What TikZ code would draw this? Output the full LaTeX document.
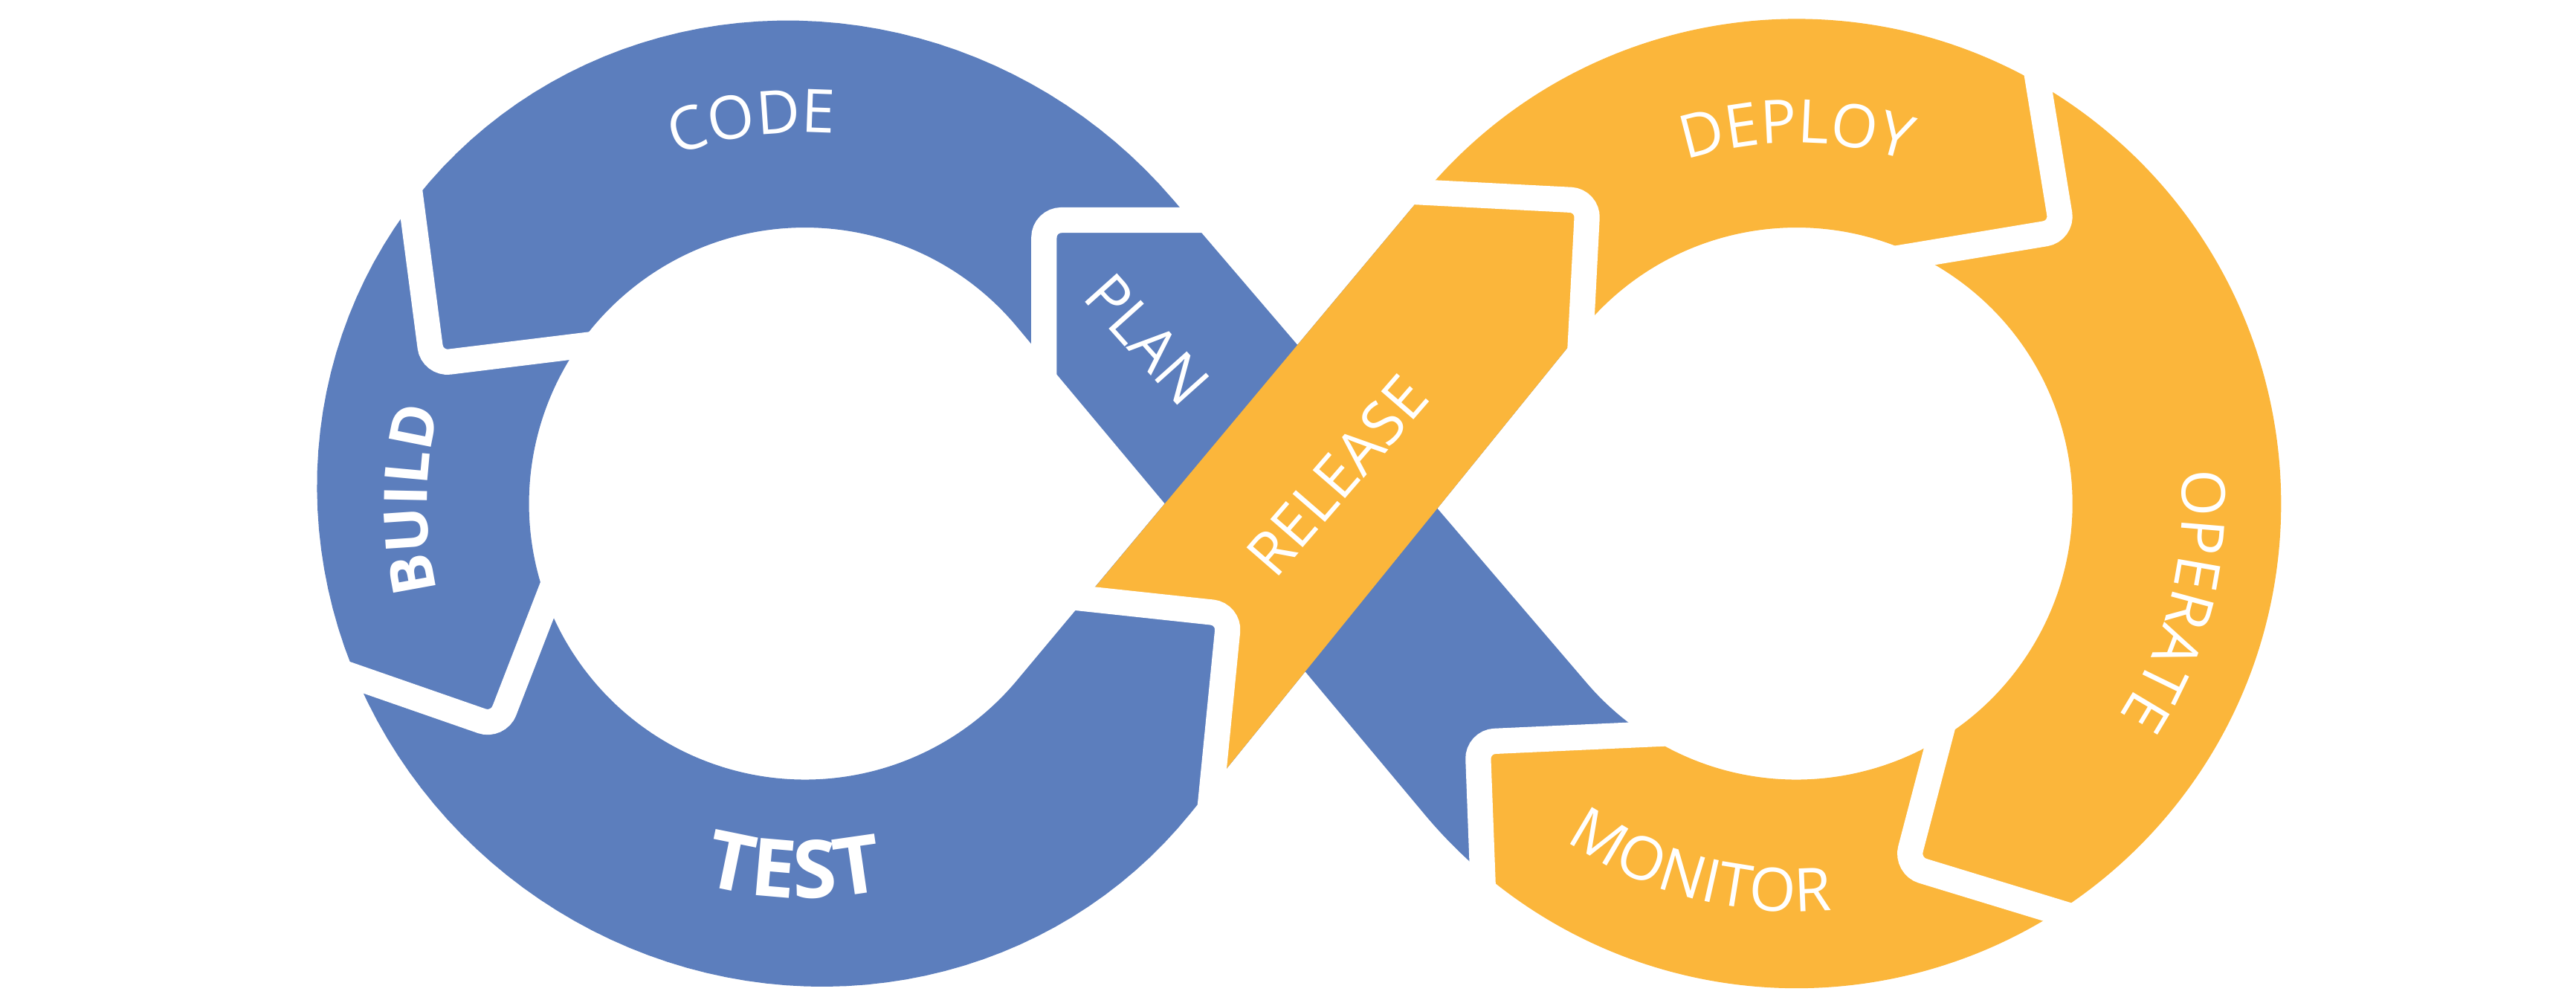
\documentclass[tikz,border=0pt]{standalone}
\usepackage{fontspec}
\setmainfont{Open Sans}
\usetikzlibrary{calc,decorations.text}
\definecolor{dblue}{HTML}{5C7EBD}
\definecolor{dorange}{HTML}{FBB63B}
\newcommand{\lblfont}{\fontsize{10.4}{10.4}\selectfont}
\newcommand{\blblfont}{\fontsize{10.4}{10.4}\selectfont\bfseries}
\newcommand{\testfont}{\fontsize{13.9}{13.9}\selectfont\bfseries}
\begin{document}
\begin{tikzpicture}[x=0.1mm,y=-0.1mm,
  bluepart/.style={fill=dblue},
  orangepart/.style={fill=dorange},
  gapline/.style={draw=white, line width=1.55mm, rounded corners=3pt},
  lbl/.style={text=white, inner sep=0pt, font=\lblfont},
  arclabel/.style={decorate, decoration={text along path, text={#1}, text align=center, text color=white}}]
\useasboundingbox (0,0) rectangle (1568,610.45);
\coordinate (cl) at (490,306.5);
\coordinate (cr) at (1093.5,306.5);

% ---------- blue: left loop, PLAN band, part under RELEASE ----------
\fill[bluepart]
  (713.8,121.2) -- ($(cr)+(139.44:168)$)
  arc[start angle=139.44, end angle=123.3, radius=168]
  -- (899.4,451.6) -- ($(cr)+(130.4:295)$)
  arc[start angle=130.4, end angle=140.1, radius=295]
  -- ($(cl)+(-39.9:168)$)
  arc[start angle=320.1, end angle=39.9, radius=168]
  -- ($(cr)+(219.9:295)$) -- (962.9,200.8) -- (724.4,495.3)
  -- plot[domain=1.93:282.9, samples=120, variable=\t]
     ({490+240.389*cos(\t)-174.526*sin(\t)}, {306.5+181.146*cos(\t)+231.604*sin(\t)})
  -- cycle;

% ---------- orange: right loop and RELEASE band ----------
\fill[orangepart]
  ($(cr)+(219.9:295)$)
  arc[start angle=219.9, end angle=490.4, radius=295]
  -- (899.4,451.6) -- ($(cr)+(123.3:168)$)
  arc[start angle=123.3, end angle=-141, radius=168]
  -- (737.8,478.7) -- (748.2,373.8) -- (660.7,364.4) -- cycle;

% ---------- white gaps between the stages ----------
\draw[gapline] (745,134) -- (635.5,134) -- (635.5,240);        % code / plan
\draw[gapline] (247.3,100) -- (263.2,221.5) -- (370,208.4);    % code / build
\draw[gapline] (195,404.7) -- (303.2,442.3) -- (342.8,340);    % build / test
\draw[gapline] (630,361.1) -- (748.2,373.8) -- (735.2,505);    % test / release
\draw[gapline] (850,116.2) -- (966.5,122.2) -- (960.9,230);    % release / deploy
\draw[gapline] (1150,158) -- (1255.3,140.5) -- (1236.5,25);    % deploy / operate
\draw[gapline] (1188.3,420) -- (1160.3,527) -- (1280,563.5);   % operate / monitor
\draw[gapline] (1030,445.7) -- (899.4,451.6) -- (903.1,550);   % monitor / plan

% ---------- labels ----------
\path[arclabel={|\lblfont|CODE}] ($(cl)+(-147.9:226)$) arc[start angle=-147.9, end angle=-47.9, radius=226];
\path[arclabel={|\blblfont|BUILD}] ($(cl)+(130.6:230)$) arc[start angle=130.6, end angle=230.6, radius=230];
\path[arclabel={|\testfont|TEST}] ($(cl)+(141.7:240)$) arc[start angle=141.7, end angle=41.7, radius=240];
\path[arclabel={|\lblfont|DEPLOY}] ($(cr)+(-140:219.5)$) arc[start angle=-140, end angle=-40, radius=219.5];
\path[arclabel={|\lblfont|OPERATE}] ($(cr)+(-35.75:235)$) arc[start angle=-35.75, end angle=64.25, radius=235];
\path[arclabel={|\lblfont|MONITOR}] ($(cr)+(154.7:248.5)$) arc[start angle=154.7, end angle=54.7, radius=248.5];
\node[lbl, rotate=-48.2] (plan) at (698.5,206.5) {PLAN};
\node[lbl, rotate=49.1] (release) at (814,289.5) {RELEASE};
\end{tikzpicture}
\end{document}
